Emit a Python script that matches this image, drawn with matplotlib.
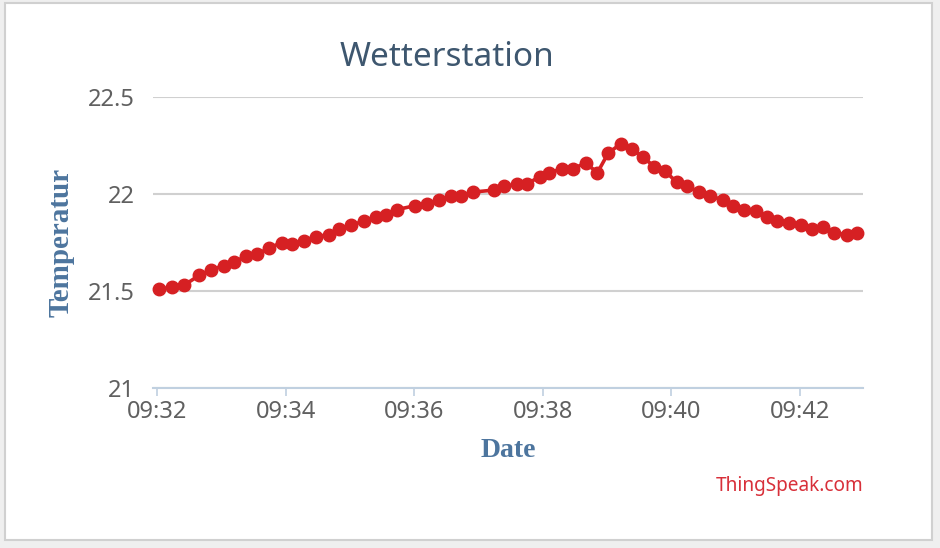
import numpy as np
import matplotlib
matplotlib.use("Agg")
import matplotlib.pyplot as plt
import matplotlib.dates as mdates
from matplotlib.patches import Rectangle
import pandas as pd

# readings (time of day, temperature)
times = ["09:32:02", "09:32:14", "09:32:25", "09:32:39", "09:32:50", "09:33:02",
         "09:33:12", "09:33:23", "09:33:33", "09:33:44", "09:33:56", "09:34:06",
         "09:34:17", "09:34:28", "09:34:40", "09:34:50", "09:35:01", "09:35:13",
         "09:35:24", "09:35:34", "09:35:44", "09:36:01", "09:36:12", "09:36:23",
         "09:36:34", "09:36:44", "09:36:55", "09:37:14", "09:37:24", "09:37:36",
         "09:37:45", "09:37:57", "09:38:06", "09:38:18", "09:38:28", "09:38:40",
         "09:38:51", "09:39:01", "09:39:13", "09:39:23", "09:39:34", "09:39:44",
         "09:39:54", "09:40:05", "09:40:15", "09:40:26", "09:40:36", "09:40:48",
         "09:40:58", "09:41:08", "09:41:19", "09:41:29", "09:41:39", "09:41:50",
         "09:42:01", "09:42:11", "09:42:22", "09:42:32", "09:42:44", "09:42:53"]
temperature = [21.51, 21.52, 21.53, 21.58, 21.61, 21.63,
               21.65, 21.68, 21.69, 21.72, 21.75, 21.74,
               21.76, 21.78, 21.79, 21.82, 21.84, 21.86,
               21.88, 21.89, 21.92, 21.94, 21.95, 21.97,
               21.99, 21.99, 22.01, 22.02, 22.04, 22.05,
               22.05, 22.09, 22.11, 22.13, 22.13, 22.16,
               22.11, 22.21, 22.26, 22.23, 22.19, 22.14,
               22.12, 22.06, 22.04, 22.01, 21.99, 21.97,
               21.94, 21.92, 21.91, 21.88, 21.86, 21.85,
               21.84, 21.82, 21.83, 21.80, 21.79, 21.80]
y_ticks = [21, 21.5, 22, 22.5]
y_ticklabels = ["21", "21.5", "22", "22.5"]

t = pd.to_datetime(times, format="%H:%M:%S")

fig = plt.figure(figsize=(9.4, 5.48), dpi=100)
fig.patch.set_facecolor("#efefef")
frame = Rectangle((5 / 940, 8 / 548), 927 / 940, 537 / 548,
                  transform=fig.transFigure, facecolor="white",
                  edgecolor="#d0d0d0", linewidth=1.5, zorder=-5)
fig.add_artist(frame)

ax = fig.add_axes([153 / 940, 160 / 548, 710 / 940, 291 / 548])
ax.set_facecolor("none")

ax.plot(t, temperature, color="#d62023", linewidth=2.6, marker="o",
        markersize=9, clip_on=False, zorder=3)

ax.set_ylim(21, 22.5)
ax.set_xlim(pd.Timestamp("1900-01-01 09:31:56"), pd.Timestamp("1900-01-01 09:42:59"))
ax.set_yticks(y_ticks)
ax.set_yticklabels(y_ticklabels)
ax.xaxis.set_major_locator(mdates.MinuteLocator(byminute=range(0, 60, 2)))
ax.xaxis.set_major_formatter(mdates.DateFormatter("%H:%M"))

for s in ["top", "right", "left"]:
    ax.spines[s].set_visible(False)
ax.spines["bottom"].set_color("#c0d0e0")
ax.spines["bottom"].set_linewidth(1.5)

ax.yaxis.grid(True, color="#d0d0d0", linewidth=1.5)
ax.set_axisbelow(True)
ax.tick_params(axis="y", length=0, pad=13, labelsize=17, labelcolor="#606060")
ax.tick_params(axis="x", length=6, width=1.2, color="#c0d0e0", pad=3,
               labelsize=17, labelcolor="#606060")
for lab in ax.get_xticklabels() + ax.get_yticklabels():
    lab.set_fontfamily("Noto Sans")

fig.text(447 / 940, 1 - 57 / 548, "Wetterstation", ha="center", va="center",
         fontsize=24, color="#3e576f", family="Noto Sans")
ax.set_xlabel("Date", fontsize=20, color="#4d759e", fontweight="bold",
              family="Liberation Serif", labelpad=10)
ax.set_ylabel("Temperatur", fontsize=21, color="#4d759e", fontweight="bold",
              family="Liberation Serif", labelpad=10)

fig.text(863 / 940, 1 - 486 / 548, "ThingSpeak.com", ha="right", va="center",
         fontsize=13.7, color="#d8303a", family="Noto Sans")

fig.savefig("out.png", dpi=100, facecolor=fig.get_facecolor())
